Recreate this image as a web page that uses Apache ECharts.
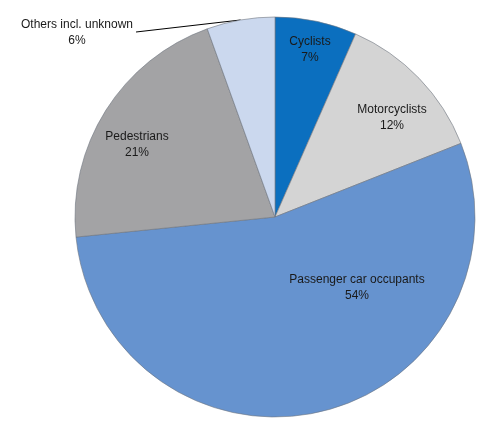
<!DOCTYPE html>
<html>
<head>
<meta charset="utf-8">
<script src="https://cdn.jsdelivr.net/npm/echarts@6/dist/echarts.min.js"></script>
<style>
  html, body { margin: 0; padding: 0; background: #fff; }
  #chart { width: 491px; height: 422px; }
</style>
</head>
<body>
<div id="chart"></div>
<script>
// road user groups, clockwise from 12 o'clock (shares in %)
var categories = ['Cyclists', 'Motorcyclists', 'Passenger car occupants', 'Pedestrians', 'Others incl. unknown'];
var shares = [6.6, 12.4, 54.4, 21.1, 5.5];

// slice colours and label anchor points (px)
var colors = ['#0b6fbf', '#d4d4d4', '#6693cf', '#a3a3a5', '#cbd8ee'];
var labelPos = [[310, 50], [392, 118], [357, 288], [137, 145], [77, 33]];

var chart = echarts.init(document.getElementById('chart'));

var pieData = [];
for (var i = 0; i < categories.length; i++) {
  var item = {
    name: categories[i],
    value: shares[i],
    itemStyle: { color: colors[i] }
  };
  if (i === categories.length - 1) {
    item.label = { position: 'outside' };
    item.labelLine = { show: true, lineStyle: { color: '#000', width: 1 } };
  }
  pieData.push(item);
}

chart.setOption({
  animation: false,
  series: [{
    type: 'pie',
    center: [275, 217],
    radius: 200,
    startAngle: 90,
    clockwise: true,
    itemStyle: {
      borderColor: '#6f7680',
      borderWidth: 0.6
    },
    label: {
      show: true,
      position: 'inside',
      formatter: function (p) {
        return p.name + '\n' + Math.round(p.value) + '%';
      },
      fontFamily: 'Liberation Sans, Arial, sans-serif',
      fontSize: 12,
      lineHeight: 16,
      color: '#1a1a1a',
      align: 'center'
    },
    labelLine: { show: false },
    labelLayout: function (params) {
      var p = labelPos[params.dataIndex];
      var out = { x: p[0], y: p[1], align: 'center', verticalAlign: 'middle' };
      if (params.dataIndex === categories.length - 1 && params.labelLinePoints) {
        var end = params.labelLinePoints[0];
        var w = params.labelRect.width;
        out.labelLinePoints = [[p[0] + w / 2 + 3, p[1] - 1], [end[0], end[1]]];
      }
      return out;
    },
    data: pieData
  }]
});
</script>
</body>
</html>
